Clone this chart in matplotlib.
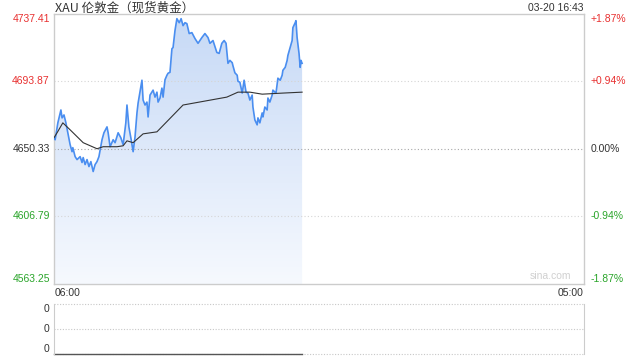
import matplotlib
matplotlib.use("Agg")
import matplotlib.pyplot as plt
import numpy as np
from matplotlib.colors import LinearSegmentedColormap

# minutes after 06:00, price
price_t = [0, 3, 10, 18, 21, 26, 31, 36, 42, 47, 49, 55, 60, 68, 73, 76, 81, 86, 91, 96,
           102, 107, 112, 117, 125, 130, 138, 141, 146, 154, 159, 167, 174, 180, 187, 190,
           195, 201, 206, 211, 216, 219, 229, 232, 237, 242, 245, 250, 258, 263, 268, 271,
           276, 281, 284, 289, 294, 297, 302, 307, 310, 315, 320, 326, 331, 336, 341, 346,
           352, 359, 367, 375, 380, 385, 393, 401, 406, 414, 424, 430, 437, 443, 448, 453,
           458, 464, 466, 471, 477, 479, 484, 490, 495, 500, 505, 510, 516, 518, 523, 529,
           531, 536, 542, 544, 549, 555, 557, 562, 568, 570, 578, 583, 589, 594, 596, 602,
           607, 609, 615, 620, 622, 628, 630, 633, 638, 641, 643, 646]
price_v = [4657.6, 4656.3, 4667.2, 4675.5, 4670.4, 4672.3, 4667.2, 4660.8, 4653.1, 4648.6,
           4651.2, 4645.4, 4643.5, 4645.4, 4641.6, 4644.8, 4640.3, 4643.5, 4639.0, 4642.2,
           4635.8, 4640.3, 4642.2, 4645.4, 4656.3, 4660.8, 4664.6, 4660.8, 4651.8, 4656.3,
           4654.4, 4660.8, 4657.6, 4653.1, 4667.2, 4678.7, 4664.6, 4656.3, 4648.6, 4658.2,
           4673.6, 4680.0, 4694.7, 4681.9, 4678.7, 4680.6, 4671.0, 4685.1, 4688.3, 4683.8,
           4687.0, 4680.6, 4683.2, 4689.6, 4683.8, 4695.0, 4697.9, 4699.2, 4699.8, 4715.0,
           4715.8, 4726.7, 4734.4, 4731.8, 4734.4, 4729.9, 4731.8, 4731.2, 4724.8, 4725.4,
           4721.6, 4718.5, 4720.3, 4722.2, 4724.8, 4722.2, 4718.5, 4720.3, 4712.6, 4712.0,
           4718.5, 4720.3, 4718.5, 4705.6, 4707.5, 4706.0, 4704.0, 4699.5, 4697.9, 4694.0,
           4693.4, 4686.4, 4694.7, 4687.0, 4686.4, 4681.9, 4685.1, 4677.4, 4669.1, 4665.9,
           4670.4, 4667.2, 4673.6, 4671.0, 4677.4, 4675.5, 4683.2, 4680.6, 4685.1, 4688.3,
           4686.4, 4696.0, 4694.7, 4697.9, 4701.1, 4703.0, 4707.5, 4710.7, 4715.8, 4720.3,
           4728.6, 4731.8, 4733.1, 4722.2, 4712.0, 4703.0, 4707.5, 4705.6]

avg_t = [0, 8, 23, 42, 76, 112, 128, 164, 180, 190, 206, 232, 268, 336, 450, 479, 510, 542, 596, 646]
avg_v = [4657.6, 4660.8, 4667.2, 4662.7, 4654.4, 4650.5, 4651.8, 4651.8, 4652.4, 4655.6,
         4654.4, 4660.1, 4661.4, 4678.7, 4683.8, 4687.0, 4687.0, 4685.7, 4686.4, 4687.0]

ticks_left = [4737.41, 4693.87, 4650.33, 4606.79, 4563.25]
ticks_right = ['+1.87%', '+0.94%', '0.00%', '-0.94%', '-1.87%']
tick_colors = ['#e83030', '#e83030', '#333333', '#2aa52a', '#2aa52a']

RED_LINE = '#4a8ef0'
FONT = 'Liberation Sans'
FS = 7.5

fig = plt.figure(figsize=(6.4, 3.6), dpi=100)
ax = fig.add_axes([54 / 640, 1 - 284 / 360, 530 / 640, 270 / 360])
ax.set_xlim(0, 1380)
ax.set_ylim(ticks_left[-1], ticks_left[0])
ax.set_xticks([])
ax.set_yticks([])
for s in ax.spines.values():
    s.set_color('#cccccc')
    s.set_linewidth(1)

# dotted gridlines
ax.axhline(ticks_left[1], color='#d5d5d5', lw=0.8, ls=(0, (1, 2)))
ax.axhline(ticks_left[3], color='#d5d5d5', lw=0.8, ls=(0, (1, 2)))
ax.axhline(ticks_left[2], color='#a8a8a8', lw=0.8, ls=(0, (1, 2)))

# gradient fill under price
cmap = LinearSegmentedColormap.from_list('g', ['#f6f9fe', '#c6d9f6'])
grad = np.linspace(0, 1, 256).reshape(-1, 1)
img = ax.imshow(grad, cmap=cmap, aspect='auto', origin='lower',
                extent=[0, 1380, ticks_left[-1], ticks_left[0]], zorder=1)
poly = ax.fill_between(price_t, price_v, ticks_left[-1], color='none', lw=0)
img.set_clip_path(poly.get_paths()[0], transform=ax.transData)

ax.plot(price_t, price_v, color=RED_LINE, lw=1.2, zorder=3)
ax.plot(avg_t, avg_v, color='#333333', lw=0.8, zorder=4)

for i, (v, r, c) in enumerate(zip(ticks_left, ticks_right, tick_colors)):
    va = 'top' if i == 0 else ('bottom' if i == len(ticks_left) - 1 else 'center')
    ax.annotate(f'{v:.2f}', xy=(0, v), xycoords=('axes fraction', 'data'),
                xytext=(-3, 0), textcoords='offset points', ha='right', va=va,
                color=c, fontsize=FS, family=FONT)
    ax.annotate(r, xy=(1, v), xycoords=('axes fraction', 'data'),
                xytext=(4.5, 0), textcoords='offset points', ha='left', va=va,
                color=c, fontsize=FS, family=FONT)

ax.text(0.975, 0.012, 'sina.com', transform=ax.transAxes, ha='right', va='bottom',
        color='#d0d0d0', fontsize=FS, family=FONT)

fig.text(55 / 640, 1 - 8 / 360, 'XAU 伦敦金（现货黄金）', ha='left', va='center',
         fontsize=9, color='#333333', family=['Noto Sans CJK SC', 'DejaVu Sans'])
fig.text(584 / 640, 1 - 8 / 360, '03-20 16:43', ha='right', va='center',
         fontsize=FS, color='#333333', family=FONT)
fig.text(55 / 640, 1 - 293 / 360, '06:00', ha='left', va='center',
         fontsize=FS, color='#333333', family=FONT)
fig.text(584 / 640, 1 - 293 / 360, '05:00', ha='right', va='center',
         fontsize=FS, color='#333333', family=FONT)

# volume panel
vol = fig.add_axes([54 / 640, 1 - 354 / 360, 530 / 640, 50 / 360])
vol.set_xlim(0, 1380)
vol.set_ylim(0, 1)
vol.set_xticks([])
vol.set_yticks([])
vol.spines['top'].set_visible(False)
vol.spines['bottom'].set_visible(False)
vol.spines['left'].set_color('#cccccc')
vol.spines['right'].set_color('#cccccc')
for y in [1, 0.5, 0]:
    vol.axhline(y, color='#c8c8c8', lw=0.8, ls=(0, (1, 1.5)), clip_on=False)
vol.plot([0, price_t[-1]], [0, 0], color='#555555', lw=1, clip_on=False)
for y, va in [(1, 'top'), (0.5, 'center'), (0, 'bottom')]:
    vol.annotate('0', xy=(0, y), xycoords=('axes fraction', 'data'),
                 xytext=(-3, 0), textcoords='offset points', ha='right', va=va,
                 color='#333333', fontsize=FS, family=FONT)

fig.savefig('out.png', dpi=100)
